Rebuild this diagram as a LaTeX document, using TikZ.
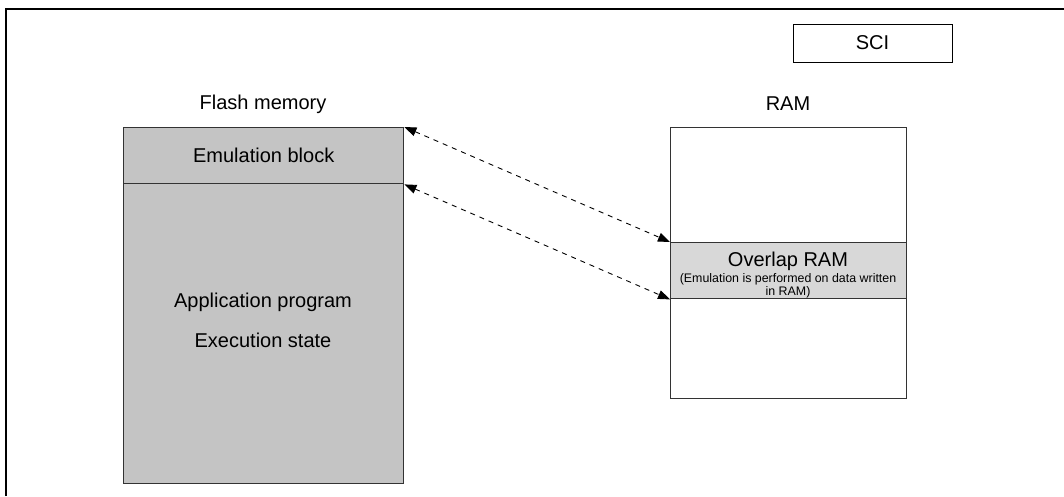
\documentclass[tikz,border=0pt]{standalone}
\usepackage{fontspec}
\setmainfont{Liberation Sans}
\usetikzlibrary{arrows.meta}
\definecolor{flashgray}{HTML}{C4C4C4}
\definecolor{ovlgray}{HTML}{D8D8D8}
\definecolor{edgegray}{HTML}{333333}
\begin{document}
\begin{tikzpicture}[x=1pt,y=-1pt,
  box/.style={draw=edgegray,line width=1.4pt,rectangle,inner sep=0pt,anchor=north west},
  big/.style={font=\fontsize{20}{24}\selectfont,inner sep=0pt},
  small/.style={font=\fontsize{12.4}{13}\selectfont,inner sep=0pt,align=center},
  link/.style={line width=0.9pt,dash pattern=on 5pt off 5pt,{Triangle[length=12pt,width=9pt]}-{Triangle[length=12pt,width=9pt]}}
]
\useasboundingbox (0,0) rectangle (1064,496);
% outer frame
\coordinate (ftl) at (6,9);
\coordinate (ftr) at (1064,9);
\coordinate (fbl) at (6,496);
\draw[line width=2.3pt] (fbl) -- (ftl) -- (ftr);
% SCI
\node[draw=black,line width=1pt,rectangle,minimum width=159pt,minimum height=38pt,inner sep=0pt,big] (sci) at (872.5,43) {SCI};
% Flash memory
\node[big] (flabel) at (263,104) {Flash memory};
\node[box,fill=flashgray,minimum width=280pt,minimum height=300pt] (app) at (123,183) {};
\node[box,fill=flashgray,minimum width=280pt,minimum height=56pt] (emu) at (123,127) {};
\node[big] (emutext) at (emu.center) {Emulation block};
\node[big] (apptext1) at (263,302) {Application program};
\node[big] (apptext2) at (263,340) {Execution state};
% RAM
\node[big] (rlabel) at (788,104) {RAM};
\node[box,fill=white,minimum width=236pt,minimum height=271pt] (ram) at (670,127) {};
\node[box,fill=ovlgray,minimum width=236pt,minimum height=56pt] (ovl) at (670,242) {};
\node[big] (ovltext) at (788,261) {Overlap RAM};
\node[small] (ovlsub) at (788,286) {(Emulation is performed on data written\\in RAM)};
% links
\draw[link] (emu.north east) -- (ovl.north west);
\draw[link] (emu.south east) -- (ovl.south west);
\end{tikzpicture}
\end{document}
